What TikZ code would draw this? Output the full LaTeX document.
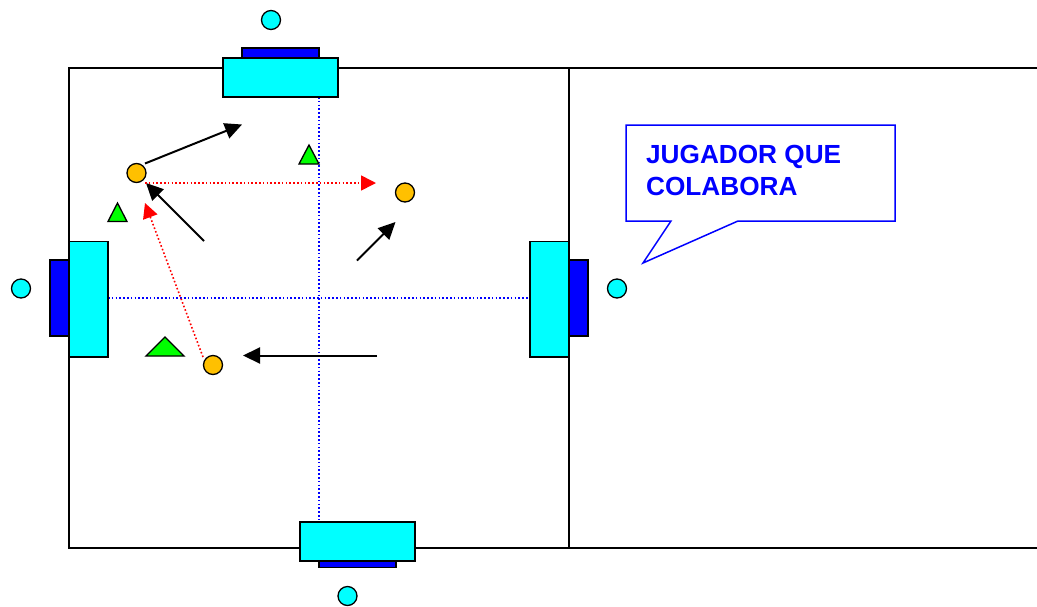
\documentclass[tikz,border=0pt]{standalone}
\usepackage{fontspec}
\setmainfont{Liberation Sans}
\usetikzlibrary{arrows.meta}
\definecolor{cy}{RGB}{0,255,255}
\definecolor{pl}{RGB}{0,0,255}
\definecolor{go}{RGB}{255,192,0}
\definecolor{gr}{RGB}{0,255,0}
\tikzset{x=1pt,y=-1pt,
 every path/.style={line width=1.3pt},
 disc/.style={circle,draw=black,line width=1.3pt,inner sep=0pt,minimum size=19pt},
 cyanbox/.style={draw=black,fill=cy},
 bluebox/.style={draw=black,fill=pl},
 tri/.style={draw=black,fill=gr,line join=miter},
 blk/.style={draw=black,line width=2pt,-{Triangle[length=17pt,width=16pt]}},
 redl/.style={draw=red,line width=1.6pt,dash pattern=on 1.6pt off 2.2pt,-{Triangle[length=15pt,width=15pt,color=red,sep=0pt]}},
 bluel/.style={draw=pl,line width=1.6pt,dash pattern=on 1.6pt off 2.2pt}}
\begin{document}
\begin{tikzpicture}
\useasboundingbox (0,0) rectangle (1037,606);
% field
\draw (1037,68) -- (69,68) -- (69,548) -- (1037,548);
\draw (569,68) -- (569,548);
% dotted lines
\coordinate (vt) at (319,97); \coordinate (vb) at (319,522);
\coordinate (hl) at (108,298); \coordinate (hr) at (530,298);
\draw[bluel] (vt) -- (vb);
\draw[bluel] (hl) -- (hr);
% goals
\draw[bluebox] (242,48) rectangle (319,58);
\draw[cyanbox] (223,58) rectangle (338,97);
\draw[bluebox] (319,561) rectangle (396,567.5);
\draw[cyanbox] (300,522) rectangle (415,561);
\draw[bluebox] (50,260) rectangle (69,336);
\draw[cyanbox] (69,241.5) rectangle (108,357);
\draw[bluebox] (569,260) rectangle (588,336);
\draw[cyanbox] (530,241.5) rectangle (569,357);
% outer discs
\node[disc,fill=cy] (d1) at (271,20) {};
\node[disc,fill=cy] (d2) at (21,288.5) {};
\node[disc,fill=cy] (d3) at (617,288.5) {};
\node[disc,fill=cy] (d4) at (347.5,596) {};
% players
\node[disc,fill=go] (p1) at (136.5,173) {};
\node[disc,fill=go] (p2) at (405,192.5) {};
\node[disc,fill=go] (p3) at (213,365) {};
% triangles
\draw[tri] (309,145) -- (319,164) -- (299,164) -- cycle;
\draw[tri] (117.5,203) -- (127,221.5) -- (108,221.5) -- cycle;
\draw[tri] (165,337) -- (184,356) -- (146,356) -- cycle;
% arrows
\coordinate (a1) at (145,163.5); \coordinate (a2) at (242,124.5);
\coordinate (b1) at (204,241); \coordinate (b2) at (146,183);
\coordinate (c1) at (357,260.5); \coordinate (c2) at (395.5,222);
\coordinate (e1) at (377,355.5); \coordinate (e2) at (243,355.5);
\coordinate (r0) at (145,183); \coordinate (r2) at (376,183);
\coordinate (r1) at (203,357); \coordinate (r3) at (145,203);
\draw[blk] (a1) -- (a2);
\draw[blk] (b1) -- (b2);
\draw[blk] (c1) -- (c2);
\draw[blk] (e1) -- (e2);
\draw[redl] (r0) -- (r2);
\draw[redl] (r1) -- (r3);
% callout
\coordinate (c0) at (643,263);
\draw[draw=pl,line width=1.5pt,fill=white,line join=miter] (626,125) -- (895,125) -- (895,221) -- (738,221) -- (c0) -- (671,221) -- (626,221) -- cycle;
\node[anchor=west,align=left,text=pl,font=\bfseries\fontsize{26.2}{32}\selectfont,inner sep=0pt] (t) at (645.5,170) {JUGADOR QUE\\COLABORA};
\end{tikzpicture}
\end{document}
